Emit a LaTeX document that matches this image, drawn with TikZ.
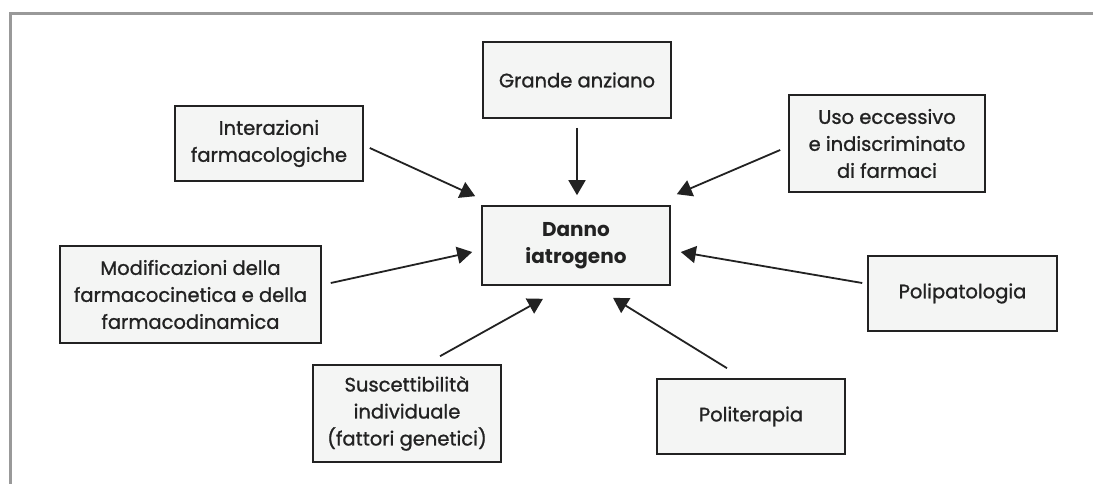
\documentclass[tikz,border=0pt]{standalone}
\usepackage{fontspec}
\setmainfont{Poppins}[UprightFeatures={FakeBold=1.1}]
\usetikzlibrary{arrows.meta,calc}
\definecolor{boxfill}{HTML}{F4F5F4}
\definecolor{ink}{HTML}{222222}
\definecolor{frame}{HTML}{999999}
\begin{document}
\begin{tikzpicture}[x=1pt,y=-1pt,
  box/.style={draw=ink,line width=1.6pt,fill=boxfill,text=ink,align=center,
    inner sep=0pt,font=\fontsize{19.5}{27}\selectfont},
  arr/.style={draw=ink,line width=1.8pt,-{Triangle[length=15pt,width=17pt]}}]
\useasboundingbox (0,0) rectangle (1093,484);
\fill[white] (0,0) rectangle (1093,484);
\draw[frame,line width=2.5pt] (10.5,484) -- (10.5,13.5) -- (1093,13.5);

\node[box,minimum width=188pt,minimum height=76pt] (gra) at (577,80) {Grande anziano};
\node[box,minimum width=188pt,minimum height=75pt] (int) at (269,143.5) {Interazioni\\farmacologiche};
\node[box,minimum width=196pt,minimum height=97pt] (uso) at (887,143.5) {Uso eccessivo\\e indiscriminato\\di farmaci};
\node[box,minimum width=188pt,minimum height=79pt,font=\fontsize{20}{27}\selectfont\bfseries] (dan) at (576,245.5) {Danno\\iatrogeno};
\node[box,minimum width=261pt,minimum height=97pt] (mod) at (190.5,294.5) {Modificazioni della\\farmacocinetica e della\\farmacodinamica};
\node[box,minimum width=189pt,minimum height=75pt] (pol) at (962.5,293.5) {Polipatologia};
\node[box,minimum width=188pt,minimum height=97pt] (sus) at (407,413.5) {Suscettibilità\\individuale\\(fattori genetici)};
\node[box,minimum width=188pt,minimum height=75pt] (pter) at (751,416.5) {Politerapia};

\draw[arr] ([shift={(6,4.5)}]int.east) -- ([shift={(-6,-9)}]dan.north west);
\draw[arr] ([shift={(0,9)}]gra.south) -- ([shift={(1,-10)}]dan.north);
\draw[arr] ([shift={(-8,6.5)}]uso.west) -- ([shift={(6,-11)}]dan.north east);
\draw[arr] ([shift={(9,-11.5)}]mod.east) -- ([shift={(-9,6.5)}]dan.west);
\draw[arr] ([shift={(-5,-10.5)}]pol.west) -- ([shift={(10,6.5)}]dan.east);
\draw[arr] ([shift={(33,-8)}]sus.north) -- ([shift={(-33,13)}]dan.south);
\draw[arr] ([shift={(-24,-10)}]pter.north) -- ([shift={(37,12)}]dan.south);
\end{tikzpicture}
\end{document}
